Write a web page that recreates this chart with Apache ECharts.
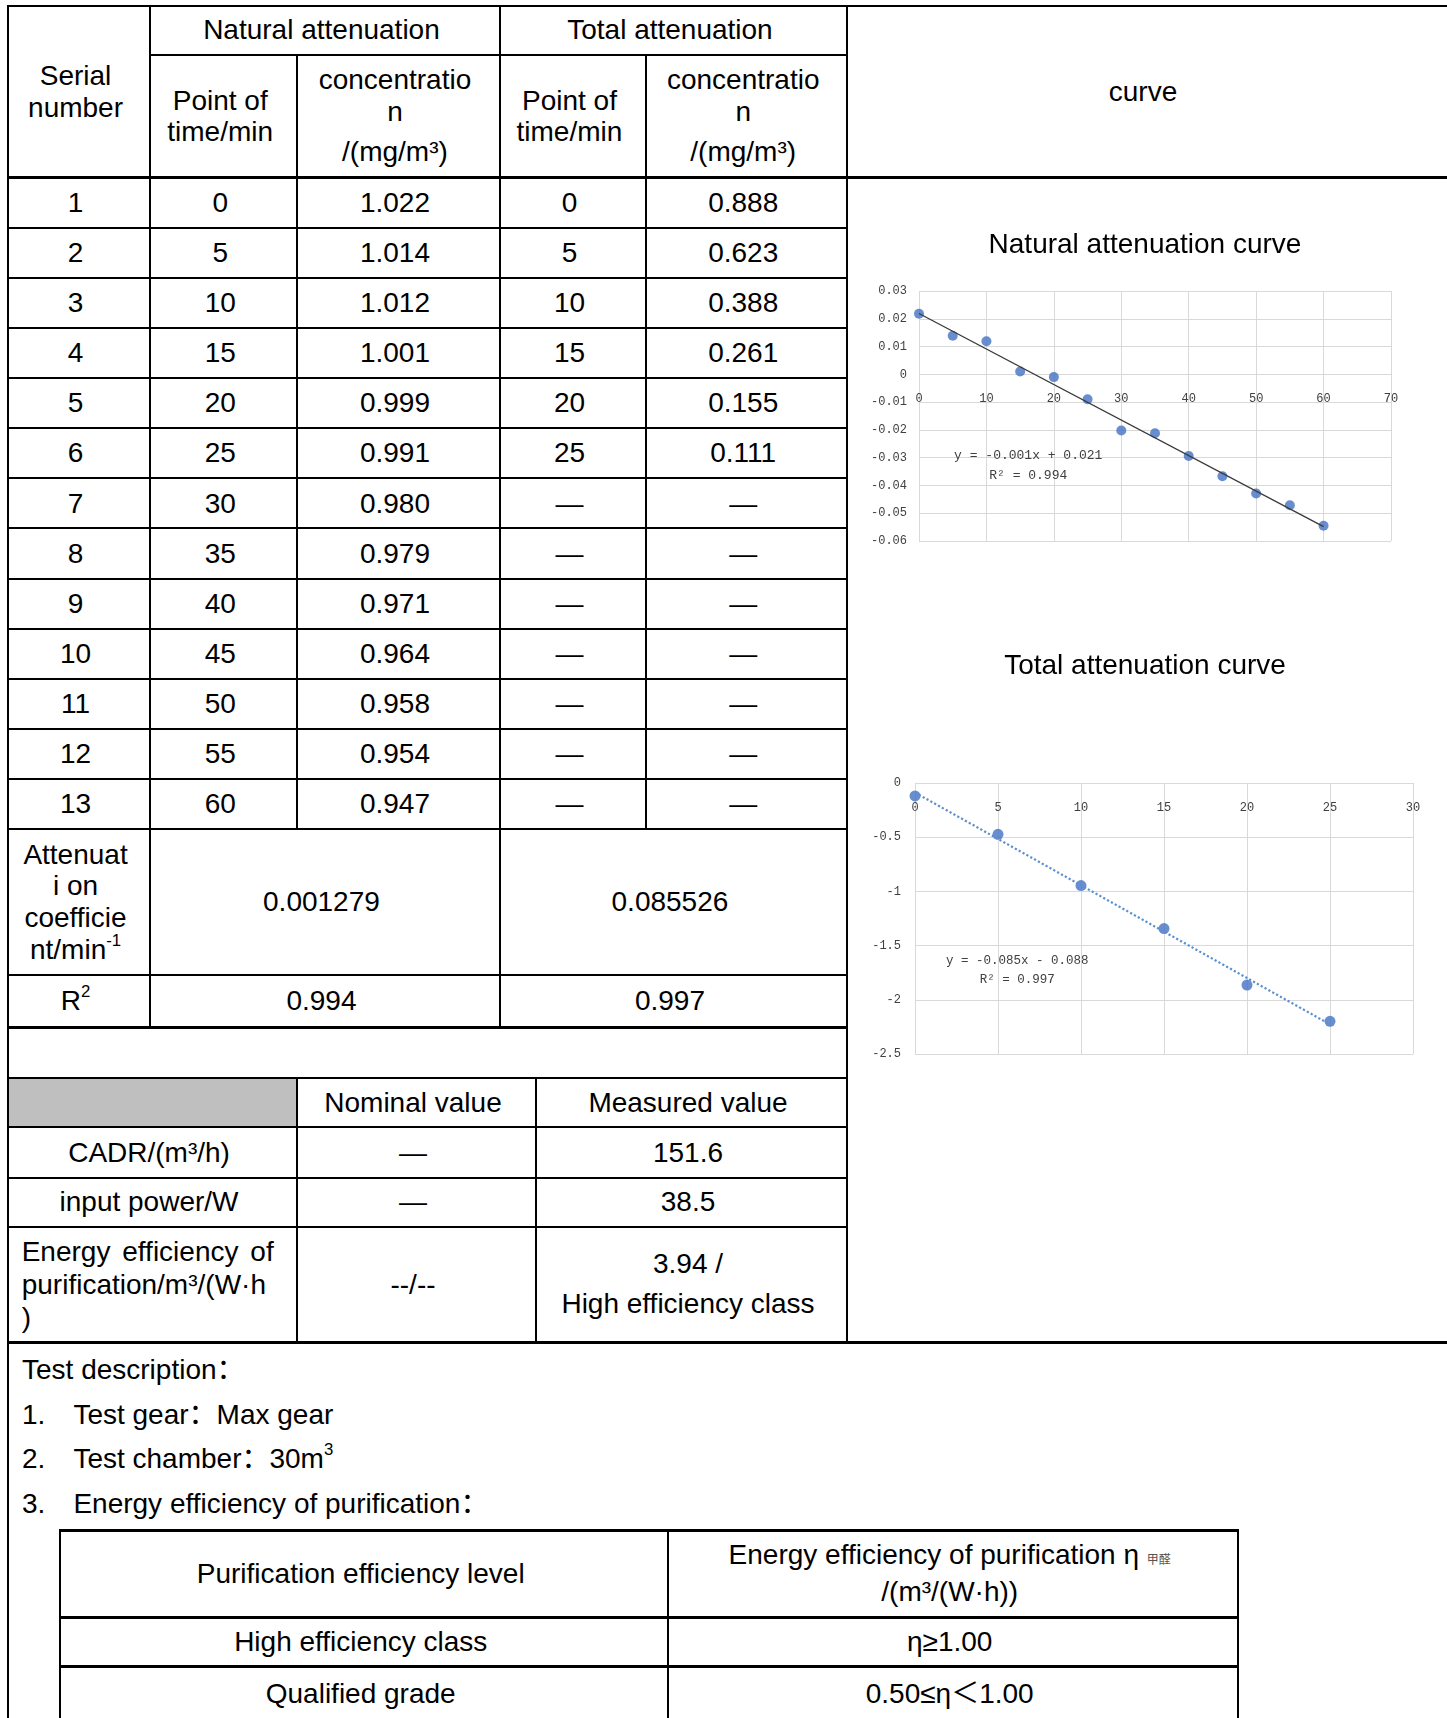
<!DOCTYPE html>
<html><head><meta charset="utf-8">
<script src="https://cdn.jsdelivr.net/npm/echarts/dist/echarts.min.js"></script>
<style>
html,body{margin:0;padding:0;background:#fff;width:1447px;height:1718px;overflow:hidden;}
#page{position:relative;width:1447px;height:1718px;font-family:"Liberation Sans",Arial,"Noto Sans CJK SC",sans-serif;font-size:28px;color:#000;}
.c{position:absolute;box-sizing:border-box;border:2px solid #000;display:flex;flex-direction:column;align-items:center;justify-content:center;text-align:center;line-height:31.6px;background:transparent;padding-right:6.6px;}
.t{position:absolute;white-space:nowrap;line-height:32px;}
.hl{position:absolute;background:#000;}
sup{font-size:0.6em;line-height:0;vertical-align:0.75em;}
#chart{position:absolute;left:847px;top:177px;width:600px;height:1165px;z-index:5;}
</style></head>
<body><div id="page"><div id="chart"></div></div>
<script>
// ---------- data ----------
const serialNo = [1,2,3,4,5,6,7,8,9,10,11,12,13];
const naturalTime = [0,5,10,15,20,25,30,35,40,45,50,55,60];
const naturalConc = [1.022,1.014,1.012,1.001,0.999,0.991,0.980,0.979,0.971,0.964,0.958,0.954,0.947];
const totalTime = [0,5,10,15,20,25];
const totalConc = [0.888,0.623,0.388,0.261,0.155,0.111];
const attenuationCoef = ['0.001279','0.085526'];
const rSquared = ['0.994','0.997'];
const perfHeaders = ['Nominal value','Measured value'];
const perfLabels = ['CADR/(m³/h)','input power/W'];
const perfNominal = ['—','—','--/--'];
const perfMeasured = ['151.6','38.5','3.94 /','High efficiency class'];
const levelNames = ['High efficiency class','Qualified grade'];
const levelRanges = ['η≥1.00','0.50≤η＜1.00'];
// chart values (ln of concentration)
const natLnC = [0.0218,0.0139,0.0119,0.0010,-0.0010,-0.0090,-0.0202,-0.0212,-0.0294,-0.0367,-0.0429,-0.0471,-0.0545];
const totLnC = [-0.1188,-0.4732,-0.9467,-1.3432,-1.8643,-2.1982];
const natTrend = [[0,0.0219],[60,-0.0548]];
const totTrend = [[0,-0.0883],[25,-2.2265]];
const natEquation = ['y = -0.001x + 0.021','R² = 0.994'];
const totEquation = ['y = -0.085x - 0.088','R² = 0.997'];

// ---------- table ----------
const page = document.getElementById('page');
function cell(x0,y0,x1,y1,html,style){
  const d=document.createElement('div');d.className='c';
  d.style.left=(x0-1)+'px';d.style.top=(y0-1)+'px';
  d.style.width=(x1-x0+2)+'px';d.style.height=(y1-y0+2)+'px';
  if(style) d.style.cssText+=style;
  d.innerHTML=html;page.appendChild(d);return d;
}
function text(x,yc,html,style){
  const d=document.createElement('div');d.className='t';
  d.style.left=x+'px';d.style.top=(yc-16)+'px';
  if(style) d.style.cssText+=style;
  d.innerHTML=html;page.appendChild(d);return d;
}
function hline(x0,x1,y,w){const d=document.createElement('div');d.className='hl';
  d.style.left=x0+'px';d.style.width=(x1-x0)+'px';d.style.top=(y-w/2)+'px';d.style.height=w+'px';page.appendChild(d);}

const C=[7.7,150,297,499.5,646,847,1452];
const R=1452;
// header
cell(C[0],5.5,C[1],177.5,'<div>Serial</div><div>number</div>');
cell(C[1],5.5,C[3],54.8,'Natural attenuation');
cell(C[3],5.5,C[5],54.8,'Total attenuation');
const concHdr='<div style="height:31.7px">concentratio</div><div style="height:31.7px">n</div><div style="height:31.7px;margin-top:9px">/(mg/m³)</div>';
cell(C[1],54.8,C[2],177.5,'<div>Point of</div><div>time/min</div>');
cell(C[2],54.8,C[3],177.5,concHdr);
cell(C[3],54.8,C[4],177.5,'<div>Point of</div><div>time/min</div>');
cell(C[4],54.8,C[5],177.5,concHdr);
cell(C[5],5.5,R,177.5,'curve','padding-right:13px;');
// data rows
const pitch=(829.2-177.5)/13;
serialNo.forEach((s,i)=>{
  const y0=177.5+i*pitch,y1=y0+pitch;
  cell(C[0],y0,C[1],y1,String(s));
  cell(C[1],y0,C[2],y1,String(naturalTime[i]));
  cell(C[2],y0,C[3],y1,naturalConc[i].toFixed(3));
  cell(C[3],y0,C[4],y1,i<totalTime.length?String(totalTime[i]):'—');
  cell(C[4],y0,C[5],y1,i<totalConc.length?totalConc[i].toFixed(3):'—');
});
cell(C[0],829.2,C[1],974.9,'<div>Attenuat</div><div>i on</div><div>coefficie</div><div>nt/min<sup>-1</sup></div>');
cell(C[1],829.2,C[3],974.9,attenuationCoef[0]);
cell(C[3],829.2,C[5],974.9,attenuationCoef[1]);
cell(C[0],974.9,C[1],1027.5,'<div>R<sup>2</sup></div>');
cell(C[1],974.9,C[3],1027.5,rSquared[0]);
cell(C[3],974.9,C[5],1027.5,rSquared[1]);
cell(C[0],1027.5,C[5],1077.9,'');
const P=[7.7,297,535.6,847];
cell(P[0],1077.9,P[1],1127.2,'','background:#bfbfbf;');
cell(P[1],1077.9,P[2],1127.2,perfHeaders[0]);
cell(P[2],1077.9,P[3],1127.2,perfHeaders[1]);
cell(P[0],1127.2,P[1],1177.6,perfLabels[0]);
cell(P[1],1127.2,P[2],1177.6,perfNominal[0]);
cell(P[2],1127.2,P[3],1177.6,perfMeasured[0]);
cell(P[0],1177.6,P[1],1226.8,perfLabels[1]);
cell(P[1],1177.6,P[2],1226.8,perfNominal[1]);
cell(P[2],1177.6,P[3],1226.8,perfMeasured[1]);
cell(P[0],1226.8,P[1],1342,'<div style="width:252px;text-align:left;line-height:33px"><div style="text-align:justify;text-align-last:justify">Energy efficiency of</div><div>purification/m³/(W·h</div><div>)</div></div>','align-items:flex-start;padding-left:13px;padding-right:0;');
cell(P[1],1226.8,P[2],1342,perfNominal[2]);
cell(P[2],1226.8,P[3],1342,'<div style="line-height:40.5px">'+perfMeasured[2]+'</div><div style="line-height:40.5px">'+perfMeasured[3]+'</div>');
cell(C[5],177.5,R,1342,'');
cell(C[0],1342,R,1740,'');
hline(C[0]-1,1447,177.5,3);
hline(C[0]-1,1447,1342,3);
// description
text(22,1370,'Test description：');
text(22,1415,'1.');text(73.4,1415,'Test gear：Max gear');
text(22,1459,'2.');text(73.4,1459,'Test chamber：30m<sup>3</sup>');
text(22,1504,'3.');text(73.4,1504,'Energy efficiency of purification：');
const B=[60,668,1238];
cell(B[0],1530,B[1],1617,'Purification efficiency level');
cell(B[1],1530,B[2],1617,'<div style="line-height:32.6px">Energy efficiency of purification η <span style="font-size:12px;color:#555;font-family:\'Noto Sans CJK SC\'">甲醛</span></div><div style="line-height:32.6px">/(m³/(W·h))</div>');
levelNames.forEach((n,i)=>{
  const y0=[1617,1666][i],y1=[1666,1722][i];
  cell(B[0],y0,B[1],y1,n);
  cell(B[1],y0,B[2],y1,levelRanges[i]);
});
hline(B[0]-1,B[2]+1,1530,3);
hline(B[0]-1,B[2]+1,1617,3);
hline(B[0]-1,B[2]+1,1666,3);

// ---------- charts ----------
const chart = echarts.init(document.getElementById('chart'),null,{renderer:'canvas'});
const tickFont = {color:'#404040',fontFamily:'"Liberation Mono","DejaVu Sans Mono",monospace',fontSize:12};
const gridColor = '#d9d9d9';
const titleStyle = {fontFamily:'"Liberation Sans",Arial,sans-serif',fontSize:28,fontWeight:'normal',color:'#000'};
function xAx(gi,max,interval,position,margin){
  return {gridIndex:gi,type:'value',min:0,max:max,interval:interval,position:position,
    axisLine:{show:false,onZero:false},
    axisTick:{show:false},
    axisLabel:Object.assign({margin:margin},tickFont),
    splitLine:{show:true,lineStyle:{color:gridColor,width:1}}};
}
function yAx(gi,min,max,interval,margin,fmt){
  return {gridIndex:gi,type:'value',min:min,max:max,interval:interval,
    axisLine:{show:false,onZero:false},axisTick:{show:false},
    axisLabel:Object.assign({margin:margin,formatter:fmt},tickFont),
    splitLine:{show:true,lineStyle:{color:gridColor,width:1}}};
}
const option = {
  animation:false,
  title:[
    {text:'Natural attenuation curve',left:293,textAlign:'center',top:49,textStyle:titleStyle},
    {text:'Total attenuation curve',left:293,textAlign:'center',top:470,textStyle:titleStyle}
  ],
  grid:[
    {left:72,top:114,width:472,height:250},
    {left:68,top:606,width:498,height:271}
  ],
  xAxis:[xAx(0,70,10,'bottom',-148),xAx(1,30,5,'top',-31)],
  yAxis:[
    yAx(0,-0.06,0.03,0.01,12,v=>Math.abs(v)<1e-9?'0':v.toFixed(2)),
    yAx(1,-2.5,0,0.5,14,v=>Math.abs(v)<1e-9?'0':String(Math.round(v*10)/10))
  ],
  series:[
    {type:'scatter',xAxisIndex:0,yAxisIndex:0,symbolSize:10,
      itemStyle:{color:'#4472C4'},data:naturalTime.map((t,i)=>[t,natLnC[i]])},
    {type:'line',xAxisIndex:0,yAxisIndex:0,symbol:'none',z:5,
      lineStyle:{color:'#3a3a3a',width:1.3},data:natTrend,
      markPoint:{symbol:'circle',symbolSize:1,itemStyle:{color:'rgba(0,0,0,0)'},
        label:{show:true,position:'inside',formatter:natEquation.join('\n'),color:'#404040',
          fontFamily:'"Liberation Mono","DejaVu Sans Mono",monospace',fontSize:13,lineHeight:20,align:'center',verticalAlign:'middle'},
        data:[{coord:[16.2,-0.0329]}]}},
    {type:'scatter',xAxisIndex:1,yAxisIndex:1,symbolSize:11,
      itemStyle:{color:'#4472C4'},data:totalTime.map((t,i)=>[t,totLnC[i]])},
    {type:'line',xAxisIndex:1,yAxisIndex:1,symbol:'none',z:5,
      lineStyle:{color:'#5B8FD0',width:2.2,type:'dotted'},data:totTrend,
      markPoint:{symbol:'circle',symbolSize:1,itemStyle:{color:'rgba(0,0,0,0)'},
        label:{show:true,position:'inside',formatter:totEquation.join('\n'),color:'#404040',
          fontFamily:'"Liberation Mono","DejaVu Sans Mono",monospace',fontSize:12.5,lineHeight:19,align:'center',verticalAlign:'middle'},
        data:[{coord:[6.16,-1.726]}]}}
  ]
};
chart.setOption(option);
</script>
</body></html>
